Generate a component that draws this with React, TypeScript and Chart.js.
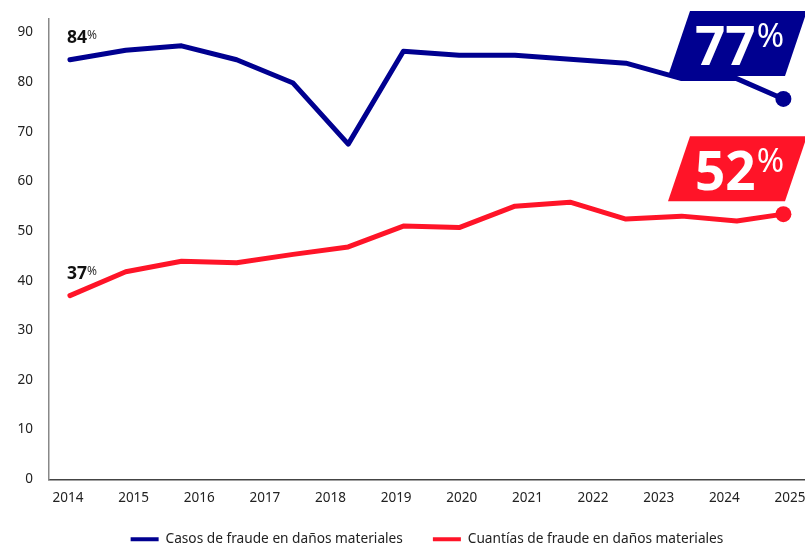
import React, { useEffect, useRef } from "react";
import { Chart, registerables } from "chart.js";

Chart.register(...registerables);

// ---- data ----
const xPositions = [2014.03, 2014.88, 2015.73, 2016.57, 2017.43, 2018.27, 2019.11, 2019.96, 2020.81, 2021.65, 2022.5, 2023.35, 2024.19, 2024.9];
const casosValues = [84.5, 86.4, 87.3, 84.5, 79.8, 67.5, 86.2, 85.4, 85.4, 84.6, 83.8, 80.7, 80.7, 76.6];
const cuantiasValues = [37.0, 41.8, 43.9, 43.6, 45.3, 46.8, 51.0, 50.7, 55.0, 55.8, 52.4, 53.0, 52.0, 53.4];
const seriesNames = ["Casos de fraude en daños materiales", "Cuantías de fraude en daños materiales"];
const startLabels = ["84", "37"];
const endLabels = ["77", "52"];
const yearTicks = [2014, 2015, 2016, 2017, 2018, 2019, 2020, 2021, 2022, 2023, 2024, 2025];
const yTicks = [0, 10, 20, 30, 40, 50, 60, 70, 80, 90];

const BLUE = "#000090";
const RED = "#FF1428";
const FONT = '"Noto Sans", sans-serif';

const annotPlugin = {
  id: "annot",
  afterDatasetsDraw(chart: any, _args: any, opts: any) {
    const ctx = chart.ctx;
    const colors = [BLUE, RED];
    chart.data.datasets.forEach((_ds: any, i: number) => {
      const meta = chart.getDatasetMeta(i);
      const first = meta.data[0];
      const last = meta.data[meta.data.length - 1];
      ctx.save();
      // start label
      ctx.textAlign = "left";
      ctx.textBaseline = "alphabetic";
      ctx.fillStyle = "#111";
      ctx.font = `700 17.5px ${FONT}`;
      const sx = first.x - 3;
      const sy = first.y - 17;
      ctx.fillText(startLabels[i], sx, sy);
      const sw = ctx.measureText(startLabels[i]).width;
      ctx.fillStyle = "#333";
      ctx.font = `400 12px ${FONT}`;
      ctx.fillText("%", sx + sw, sy - 4);
      // end box
      const right = chart.chartArea.right - 20;
      const bottom = last.y - opts.boxOffsets[i];
      const h = 65, wBox = 117, slant = 22;
      ctx.fillStyle = colors[i];
      ctx.beginPath();
      ctx.moveTo(right - wBox, bottom);
      ctx.lineTo(right, bottom);
      ctx.lineTo(right + slant, bottom - h);
      ctx.lineTo(right - wBox + slant, bottom - h);
      ctx.closePath();
      ctx.fill();
      ctx.fillStyle = "#fff";
      ctx.font = `700 53px ${FONT}`;
      const tx = right - wBox + 27;
      const ty = bottom - 11;
      ctx.fillText(endLabels[i], tx, ty);
      const tw = ctx.measureText(endLabels[i]).width;
      ctx.font = `400 33px ${FONT}`;
      ctx.fillText("%", tx + tw + 1, ty - 18);
      ctx.restore();
    });
  },
};

export default function App() {
  const ref = useRef<HTMLCanvasElement>(null);
  useEffect(() => {
    if (!ref.current) return;
    const mk = (vals: number[]) => vals.map((v, i) => ({ x: xPositions[i], y: v }));
    const radii = (vals: number[]) => vals.map((_, i) => (i === vals.length - 1 ? 8 : 0));
    const chart = new Chart(ref.current, {
      type: "line",
      data: {
        datasets: [
          {
            label: seriesNames[0],
            data: mk(casosValues),
            borderColor: BLUE,
            backgroundColor: BLUE,
            borderWidth: 5,
            pointRadius: radii(casosValues),
            pointBackgroundColor: BLUE,
            pointBorderWidth: 0,
            borderCapStyle: "round",
            borderJoinStyle: "round",
            tension: 0,
          },
          {
            label: seriesNames[1],
            data: mk(cuantiasValues),
            borderColor: RED,
            backgroundColor: RED,
            borderWidth: 5,
            pointRadius: radii(cuantiasValues),
            pointBackgroundColor: RED,
            pointBorderWidth: 0,
            borderCapStyle: "round",
            borderJoinStyle: "round",
            tension: 0,
          },
        ],
      },
      options: {
        animation: false,
        responsive: true,
        maintainAspectRatio: false,
        events: [],
        layout: { autoPadding: false, padding: { top: 19, right: 0, left: 0, bottom: -10 } },
        scales: {
          x: {
            type: "linear",
            min: 2013.711,
            max: 2025.229,
            grid: { display: false, drawTicks: false },
            border: { display: true, color: "#444", width: 1.5 },
            afterBuildTicks: (scale: any) => {
              scale.ticks = yearTicks.map((v) => ({ value: v }));
            },
            afterFit: (scale: any) => {
              scale.height = 23;
              scale.paddingLeft = 0;
              scale.paddingRight = 0;
            },
            ticks: {
              autoSkip: false,
              maxRotation: 0,
              padding: 11,
              color: "#222",
              font: { family: FONT, size: 13.5 },
              callback: (v: any) => String(v),
            },
          },
          y: {
            min: 0,
            max: 92.7,
            grid: { display: false, drawTicks: false },
            border: { display: true, color: "#888", width: 1.5 },
            afterBuildTicks: (scale: any) => {
              scale.ticks = yTicks.map((v) => ({ value: v }));
            },
            afterFit: (scale: any) => {
              scale.width = 49;
              scale.paddingTop = 0;
              scale.paddingBottom = 0;
            },
            ticks: {
              padding: 16,
              color: "#222",
              font: { family: FONT, size: 13.5 },
              callback: (v: any) => String(v),
            },
          },
        },
        plugins: {
          tooltip: { enabled: false },
          annot: { boxOffsets: [23, 13] },
          legend: {
            position: "bottom",
            fullSize: false,
            labels: {
              boxWidth: 28,
              boxHeight: 4,
              padding: 30,
              color: "#222",
              font: { family: FONT, size: 13.7 },
              generateLabels: (c: any) =>
                Chart.defaults.plugins.legend.labels.generateLabels(c).map((l: any) => ({ ...l, lineWidth: 0 })),
            },
          },
        } as any,
      },
      plugins: [annotPlugin],
    } as any);
    return () => chart.destroy();
  }, []);
  return (
    <div style={{ position: "fixed", left: 0, top: 0, width: 805, height: 546, background: "#fff" }}>
      <canvas ref={ref} />
    </div>
  );
}
